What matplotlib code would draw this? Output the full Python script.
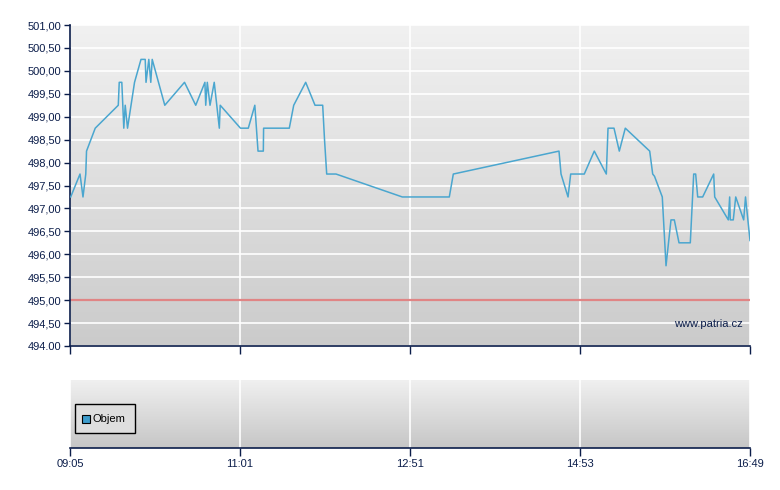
import numpy as np
import matplotlib
matplotlib.use("Agg")
import matplotlib.pyplot as plt
from matplotlib.patches import Rectangle

# ---- data ----
# x = position along the session axis (0..100, ticks equally spaced)
pos = [0.1, 1.47, 1.91, 2.32, 2.43, 3.71, 7.10, 7.24, 7.62, 7.91, 8.12, 8.46, 9.49,
       10.44, 11.06, 11.18, 11.59, 11.88, 12.09, 13.94, 16.84, 18.49, 19.84, 19.96,
       20.19, 20.59, 21.21, 21.96, 22.09, 25.07, 26.22, 27.18, 27.65, 28.43, 28.47,
       32.25, 32.90, 34.66, 36.03, 37.16, 37.43, 37.75, 39.12, 48.87, 55.78, 56.37,
       71.91, 72.21, 73.24, 73.63, 75.63, 77.10, 78.87, 79.12, 80.00, 80.78, 81.66,
       85.25, 85.69, 85.96, 87.10, 87.65, 88.38, 88.87, 89.56, 91.22, 91.72, 92.01,
       92.31, 93.04, 94.66, 94.81, 96.81, 97.01, 97.10, 97.54, 97.90, 99.07, 99.34,
       100.0]
price = [497.25, 497.75, 497.25, 497.75, 498.25, 498.75, 499.25, 499.75, 499.75,
         498.75, 499.25, 498.75, 499.75, 500.25, 500.25, 499.75, 500.25, 499.75,
         500.25, 499.25, 499.75, 499.25, 499.75, 499.25, 499.75, 499.25, 499.75,
         498.75, 499.25, 498.75, 498.75, 499.25, 498.25, 498.25, 498.75, 498.75,
         499.25, 499.75, 499.25, 499.25, 498.5, 497.75, 497.75, 497.25, 497.25,
         497.75, 498.25, 497.75, 497.25, 497.75, 497.75, 498.25, 497.75, 498.75,
         498.75, 498.25, 498.75, 498.25, 497.75, 497.7, 497.25, 495.75, 496.75,
         496.75, 496.25, 496.25, 497.75, 497.75, 497.25, 497.25, 497.75, 497.25,
         496.75, 497.25, 496.75, 496.75, 497.25, 496.75, 497.25, 496.3]
ref_level = 495.0
x_tick_pos = [0, 25, 50, 75, 100]
x_tick_labels = ["09:05", "11:01", "12:51", "14:53", "16:49"]
y_ticks = [494.0, 494.5, 495.0, 495.5, 496.0, 496.5, 497.0, 497.5, 498.0, 498.5,
           499.0, 499.5, 500.0, 500.5, 501.0]
y_tick_labels = ["494.00", "494,50", "495,00", "495,50", "496,00", "496,50", "497,00",
                 "497,50", "498,00", "498,50", "499,00", "499,50", "500,00", "500,50",
                 "501,00"]

navy = "#0b1d4a"
plt.rcParams['font.family'] = ['Liberation Sans', 'DejaVu Sans']

fig = plt.figure(figsize=(7.8, 4.9), dpi=100)
ax = fig.add_axes([70/780, 1-346/490, 680/780, 321/490])
ax2 = fig.add_axes([70/780, 1-448/490, 680/780, 68/490])

def grad_bg(a, top, bottom):
    g = np.linspace(0, 1, 256).reshape(-1, 1)
    t = np.array(top) / 255.0
    b = np.array(bottom) / 255.0
    img = t[None, None, :] * (1 - g[:, :, None]) + b[None, None, :] * g[:, :, None]
    a.imshow(img, extent=[0, 1, 0, 1], transform=a.transAxes, aspect='auto',
             zorder=0, interpolation='bilinear')

grad_bg(ax, (241, 241, 241), (203, 203, 203))
grad_bg(ax2, (240, 240, 240), (198, 198, 198))

for a in (ax, ax2):
    a.set_xlim(0, 100)
    a.set_xticks(x_tick_pos)
    a.grid(True, color='white', linewidth=1.2, zorder=1)
    a.set_axisbelow(True)
    for s in ('top', 'right'):
        a.spines[s].set_visible(False)
    a.spines['left'].set_color(navy)
    a.spines['bottom'].set_color(navy)
    a.spines['left'].set_linewidth(1.2)
    a.spines['bottom'].set_linewidth(1.2)
    a.tick_params(axis='both', colors=navy, labelcolor=navy, labelsize=8,
                  length=5, width=1, direction='out')

ax.set_ylim(494, 501)
ax.set_yticks(y_ticks)
ax.set_yticklabels(y_tick_labels)
ax.tick_params(axis='x', labelbottom=False, length=6)
ax.tick_params(axis='y', length=4, pad=2)

ax.axhline(ref_level, color='#e08585', linewidth=1.6, zorder=2)
ax.plot(pos, price, color='#4aa6cf', linewidth=1.1, zorder=3)
ax.text(0.99, 0.067, "www.patria.cz", transform=ax.transAxes, ha='right',
        va='center', fontsize=8, color=navy, zorder=4)

ax2.set_ylim(0, 1)
ax2.set_yticks([0.0, 0.5, 1.0])
ax2.yaxis.grid(False)
ax2.tick_params(axis='y', left=False, labelleft=False)
ax2.spines['left'].set_visible(False)
ax2.set_xticklabels(x_tick_labels)
ax2.tick_params(axis='x', length=6, pad=2)

# legend box
ax2.add_patch(Rectangle((0.0075, 0.22), 0.088, 0.43, transform=ax2.transAxes,
                        facecolor='#dedede', edgecolor='black', linewidth=1, zorder=4))
ax2.add_patch(Rectangle((0.018, 0.37), 0.011, 0.12, transform=ax2.transAxes,
                        facecolor='#3d9ccc', edgecolor='black', linewidth=0.8, zorder=5))
ax2.text(0.033, 0.43, "Objem", transform=ax2.transAxes, ha='left', va='center',
         fontsize=8, color='black', zorder=5)

fig.savefig("out.png", dpi=100)
